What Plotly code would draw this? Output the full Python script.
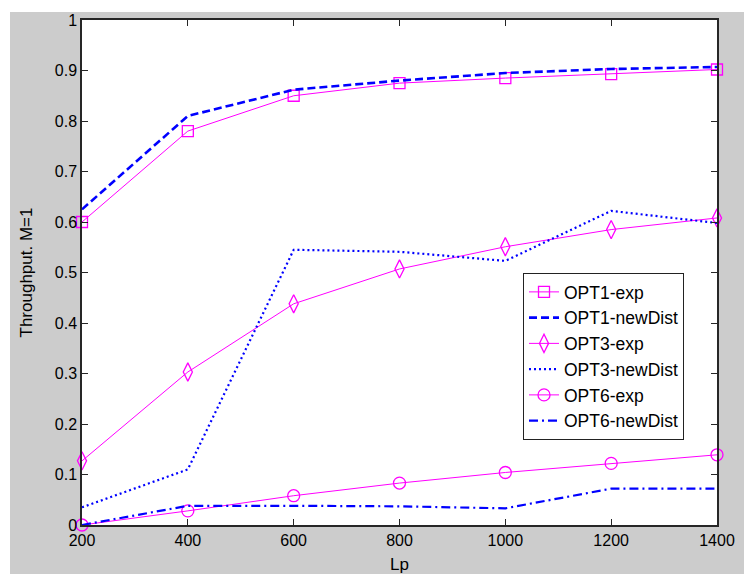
import plotly.graph_objects as go

lp = [200, 400, 600, 800, 1000, 1200, 1400]
opt1_exp = [0.600, 0.780, 0.850, 0.875, 0.885, 0.893, 0.902]
opt1_new = [0.625, 0.810, 0.862, 0.880, 0.895, 0.903, 0.907]
opt3_exp = [0.127, 0.303, 0.438, 0.507, 0.551, 0.585, 0.608]
opt3_new = [0.035, 0.110, 0.545, 0.541, 0.523, 0.622, 0.598]
opt6_exp = [0.000, 0.028, 0.058, 0.083, 0.104, 0.122, 0.139]
opt6_new = [0.000, 0.038, 0.038, 0.037, 0.033, 0.072, 0.072]

x_ticks = [200, 400, 600, 800, 1000, 1200, 1400]
y_ticks = [0, 0.1, 0.2, 0.3, 0.4, 0.5, 0.6, 0.7, 0.8, 0.9, 1]

MAG = "#FF00FF"
BLUE = "#0000FF"
FONT = "Liberation Sans, Arial, sans-serif"

series = [
    ("OPT1-exp", opt1_exp, dict(color=MAG, width=1), dict(symbol="square-open", size=11, color=MAG, line=dict(width=1.3))),
    ("OPT1-newDist", opt1_new, dict(color=BLUE, width=2.6, dash="8px,4px"), None),
    ("OPT3-exp", opt3_exp, dict(color=MAG, width=1), dict(symbol="diamond-tall-open", size=13, color=MAG, line=dict(width=1.3))),
    ("OPT3-newDist", opt3_new, dict(color=BLUE, width=2.2, dash="2px,3px"), None),
    ("OPT6-exp", opt6_exp, dict(color=MAG, width=1), dict(symbol="circle-open", size=12, color=MAG, line=dict(width=1.3))),
    ("OPT6-newDist", opt6_new, dict(color=BLUE, width=2.2, dash="9px,4px,2px,4px"), None),
]

fig = go.Figure()
for i, (name, vals, line, marker) in enumerate(series):
    fig.add_trace(go.Scatter(
        x=lp, y=vals, name=name, legendgroup=str(i),
        mode="lines+markers" if marker else "lines",
        line=line, marker=marker if marker else None,
        cliponaxis=False,
    ))

fig.update_layout(
    width=744, height=574,
    margin=dict(l=82, r=27, t=20, b=49, autoexpand=False),
    paper_bgcolor="white", plot_bgcolor="white",
    font=dict(family=FONT, size=16, color="black"),
    showlegend=True,
    legend=dict(
        x=0.6945, y=0.499, xanchor="left", yanchor="top",
        bgcolor="white", bordercolor="#222222", borderwidth=1,
        font=dict(family=FONT, size=17.5, color="black"),
        traceorder="grouped", tracegroupgap=0, entrywidth=140,
    ),
    shapes=[
        dict(type="rect", xref="paper", yref="paper", x0=-0.1134, x1=1.05, y0=-0.11, y1=1.0158,
             fillcolor="#CCCCCC", line=dict(width=0), layer="below"),
        dict(type="rect", xref="paper", yref="paper", x0=0, x1=1, y0=0, y1=1,
             fillcolor="white", line=dict(width=0), layer="below"),
    ],
)

fig.update_xaxes(
    range=[200, 1400], tickvals=x_ticks, ticktext=[str(v) for v in x_ticks],
    showgrid=False, zeroline=False, showline=True, linecolor="#262626", linewidth=1.5,
    mirror="ticks", ticks="inside", ticklen=6, tickcolor="#262626", automargin=False,
    title=dict(text="Lp", font=dict(size=17), standoff=10),
)
fig.update_yaxes(
    range=[0, 1], tickvals=y_ticks, ticktext=[("%g" % v) for v in y_ticks],
    showgrid=False, zeroline=False, showline=True, linecolor="#262626", linewidth=1.5,
    mirror="ticks", ticks="inside", ticklen=6, tickcolor="#262626", automargin=False,
    title=dict(text="Throughput. M=1", font=dict(size=17), standoff=18),
)

fig.write_html("out.html", config={"displayModeBar": False},
               post_script="document.body.style.margin='0';document.body.style.padding='0';")
